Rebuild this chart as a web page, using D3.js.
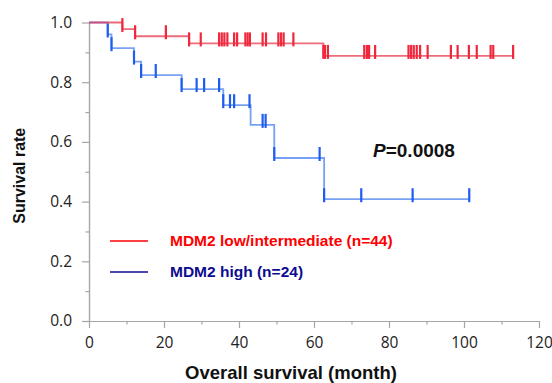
<!DOCTYPE html>
<html>
<head>
<meta charset="utf-8">
<script src="https://cdn.jsdelivr.net/npm/d3@7"></script>
<style>
  body { margin: 0; background: #fff; }
  svg { display: block; }
</style>
</head>
<body>
<svg width="552" height="383"></svg>
<script>
// Kaplan-Meier curves
const redEventTimes = [8.9, 12.3, 26.7, 62.5];
const redEventSurv = [0.978, 0.954, 0.930, 0.888];
const redCensor = [8.9, 12.3, 20.5, 26.7, 29.8, 34.7, 35.4, 36.1, 36.9, 38.7, 39.5,
  41.7, 42.3, 42.9, 46.3, 47.2, 50.5, 51.2, 51.9, 54.5, 62.5, 62.9, 63.7, 73.4, 74.1,
  74.7, 76.3, 85.2, 85.9, 86.6, 87.4, 88.3, 90.3, 96.5, 98.3, 101.3, 103.4, 107.1,
  107.8, 113.1];
const redEnd = 113.1;

const blueEventTimes = [5.0, 6.0, 12.0, 13.9, 24.7, 35.8, 43.1, 49.4, 62.7];
const blueEventSurv = [0.96, 0.914, 0.869, 0.824, 0.777, 0.723, 0.657, 0.546, 0.408];
const blueCensor = [5.0, 6.0, 12.0, 13.9, 17.8, 24.7, 28.7, 30.7, 34.7, 35.8, 37.6,
  38.7, 42.8, 46.3, 47.1, 49.4, 61.5, 62.7, 72.6, 86.3, 101.4];
const blueEnd = 101.4;

const xMajor = [0, 20, 40, 60, 80, 100, 120];
const xMinor = [10, 30, 50, 70, 90, 110];
const yMajor = [0, 0.2, 0.4, 0.6, 0.8, 1.0];
const yMinor = [0.1, 0.3, 0.5, 0.7, 0.9];

const legendLabels = ["MDM2 low/intermediate (n=44)", "MDM2 high (n=24)"];

const svg = d3.select("svg");
const x = d3.scaleLinear().domain([0, 120]).range([89, 539]);
const y = d3.scaleLinear().domain([0, 1]).range([321, 22.5]);

const axisColor = "#a6a6a6";
const tickFont = "'Open Sans', sans-serif";
const boldFont = "'Liberation Sans', Arial, sans-serif";

// axes
const styleAxis = (g) => {
  g.selectAll("path, line").attr("stroke", axisColor).attr("stroke-width", 1.2);
  g.selectAll("text")
    .attr("fill", "#222")
    .style("font-family", tickFont)
    .style("font-size", "15.5px");
};

svg.append("g")
  .attr("transform", `translate(${x(0)},0)`)
  .call(d3.axisLeft(y).tickValues(yMajor).tickSize(7).tickSizeOuter(0)
    .tickPadding(10).tickFormat(d3.format(".1f")))
  .call(styleAxis);
svg.append("g")
  .attr("transform", `translate(${x(0)},0)`)
  .call(d3.axisLeft(y).tickValues(yMinor).tickSize(3.5).tickSizeOuter(0).tickFormat(""))
  .call(styleAxis);

svg.append("g")
  .attr("transform", `translate(0,${y(0)})`)
  .call(d3.axisBottom(x).tickValues(xMajor).tickSize(7).tickSizeOuter(0).tickPadding(9))
  .call(styleAxis);
svg.append("g")
  .attr("transform", `translate(0,${y(0)})`)
  .call(d3.axisBottom(x).tickValues(xMinor).tickSize(3.5).tickSizeOuter(0).tickFormat(""))
  .call(styleAxis);

// axis titles
svg.append("text")
  .attr("x", 291)
  .attr("y", 379)
  .attr("text-anchor", "middle")
  .style("font-family", boldFont)
  .style("font-weight", "bold")
  .style("font-size", "18.5px")
  .attr("fill", "#111")
  .text("Overall survival (month)");

svg.append("text")
  .attr("transform", `translate(25,${(y(0) + y(1)) / 2 + 4}) rotate(-90)`)
  .attr("text-anchor", "middle")
  .style("font-family", boldFont)
  .style("font-weight", "bold")
  .style("font-size", "16px")
  .attr("fill", "#111")
  .text("Survival rate");

// curves
const survAt = (times, surv, t) => {
  let s = 1;
  times.forEach((d, i) => { if (d <= t) s = surv[i]; });
  return s;
};

const drawCurve = (times, surv, censor, end, lineColor, tickColor) => {
  const pts = [[0, 1]].concat(times.map((t, i) => [t, surv[i]]), [[end, surv[surv.length - 1]]]);
  const line = d3.line().x((d) => x(d[0])).y((d) => y(d[1])).curve(d3.curveStepAfter);
  svg.append("path")
    .attr("d", line(pts))
    .attr("fill", "none")
    .attr("stroke", lineColor)
    .attr("stroke-width", 1.8)
    .attr("stroke-opacity", 0.75);
  svg.append("g")
    .selectAll("line")
    .data(censor)
    .join("line")
    .attr("x1", (d) => x(d))
    .attr("x2", (d) => x(d))
    .attr("y1", (d) => y(survAt(times, surv, d)) - 11)
    .attr("y2", (d) => y(survAt(times, surv, d)) + 3)
    .attr("stroke", tickColor)
    .attr("stroke-width", 2.2);
};

drawCurve(blueEventTimes, blueEventSurv, blueCensor, blueEnd, "#4a82f0", "#1f5cf0");
drawCurve(redEventTimes, redEventSurv, redCensor, redEnd, "#e83a50", "#f0283c");

// legend
const legendColors = ["#ff0000", "#0c0c90"];
const legendY = [241, 272];
const legend = svg.append("g")
  .selectAll("g")
  .data(legendLabels)
  .join("g")
  .attr("transform", (d, i) => `translate(0,${legendY[i]})`);
legend.append("line")
  .attr("x1", 110).attr("x2", 148)
  .attr("stroke", (d, i) => legendColors[i])
  .attr("stroke-width", 1.5);
legend.append("text")
  .attr("x", 170)
  .attr("dy", "0.35em")
  .style("font-family", boldFont)
  .style("font-weight", "bold")
  .style("font-size", "15.5px")
  .attr("fill", (d, i) => legendColors[i])
  .text((d) => d);

// p-value
const p = svg.append("text")
  .attr("x", 373)
  .attr("y", 157)
  .style("font-family", boldFont)
  .style("font-weight", "bold")
  .style("font-size", "19px")
  .attr("fill", "#111");
p.append("tspan").style("font-style", "italic").text("P");
p.append("tspan").text("=0.0008");
</script>
</body>
</html>
